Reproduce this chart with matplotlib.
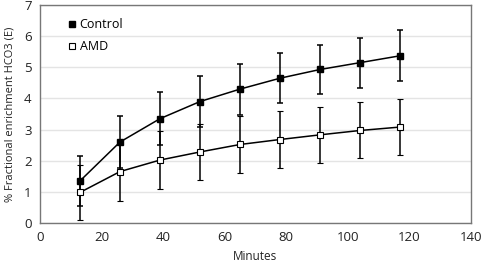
"""Fractional enrichment of HCO3 over time, Control vs AMD."""
import matplotlib
matplotlib.use("Agg")
import matplotlib.pyplot as plt
from matplotlib.lines import Line2D

plt.rcParams["font.family"] = ["Open Sans", "DejaVu Sans"]

minutes = [13, 26, 39, 52, 65, 78, 91, 104, 117]
control = [1.35, 2.60, 3.35, 3.90, 4.30, 4.65, 4.93, 5.15, 5.37]
control_err = [0.80, 0.85, 0.85, 0.82, 0.82, 0.80, 0.80, 0.80, 0.82]
amd = [0.98, 1.65, 2.02, 2.28, 2.52, 2.68, 2.83, 2.97, 3.08]
amd_err = [0.88, 0.93, 0.92, 0.90, 0.92, 0.90, 0.90, 0.90, 0.90]


def main():
    fig = plt.figure(figsize=(4.82, 2.66), dpi=100)
    ax = fig.add_axes([0.083, 0.162, 0.894, 0.819])

    ax.errorbar(minutes, control, yerr=control_err, color="black", lw=1.1,
                elinewidth=1.1, capsize=2.5, capthick=1.1, marker="s", ms=5,
                mfc="black", mec="black", zorder=3)
    ax.errorbar(minutes, amd, yerr=amd_err, color="black", lw=1.1,
                elinewidth=1.1, capsize=2.5, capthick=1.1, marker="s", ms=5,
                mfc="white", mec="black", mew=0.8, zorder=3)

    ax.set_xlim(0, 140)
    ax.set_ylim(0, 7)
    ax.set_xticks(range(0, 141, 20))
    ax.set_yticks(range(0, 8))
    ax.yaxis.grid(True, color="#e4e4e4", lw=1.0)
    ax.set_axisbelow(True)
    ax.tick_params(length=0, labelsize=9.5, colors="#222222", pad=6)
    for s in ax.spines.values():
        s.set_color("#777777")
        s.set_linewidth(1.0)

    ax.set_xlabel("Minutes", fontsize=8.5, color="#222222", labelpad=4)
    ax.set_ylabel("% Fractional enrichment HCO3 (E)", fontsize=8, color="#222222",
                  labelpad=6)

    handles = [
        Line2D([], [], ls="none", marker="s", ms=5, mfc="black", mec="black"),
        Line2D([], [], ls="none", marker="s", ms=5, mfc="white", mec="black", mew=0.8),
    ]
    ax.legend(handles, ["Control", "AMD"], loc="upper left",
              bbox_to_anchor=(0.04, 0.99), frameon=False, fontsize=9,
              handlelength=0.6, handletextpad=0.3, labelspacing=0.7)

    fig.savefig("out.png", dpi=100)


if __name__ == "__main__":
    main()
